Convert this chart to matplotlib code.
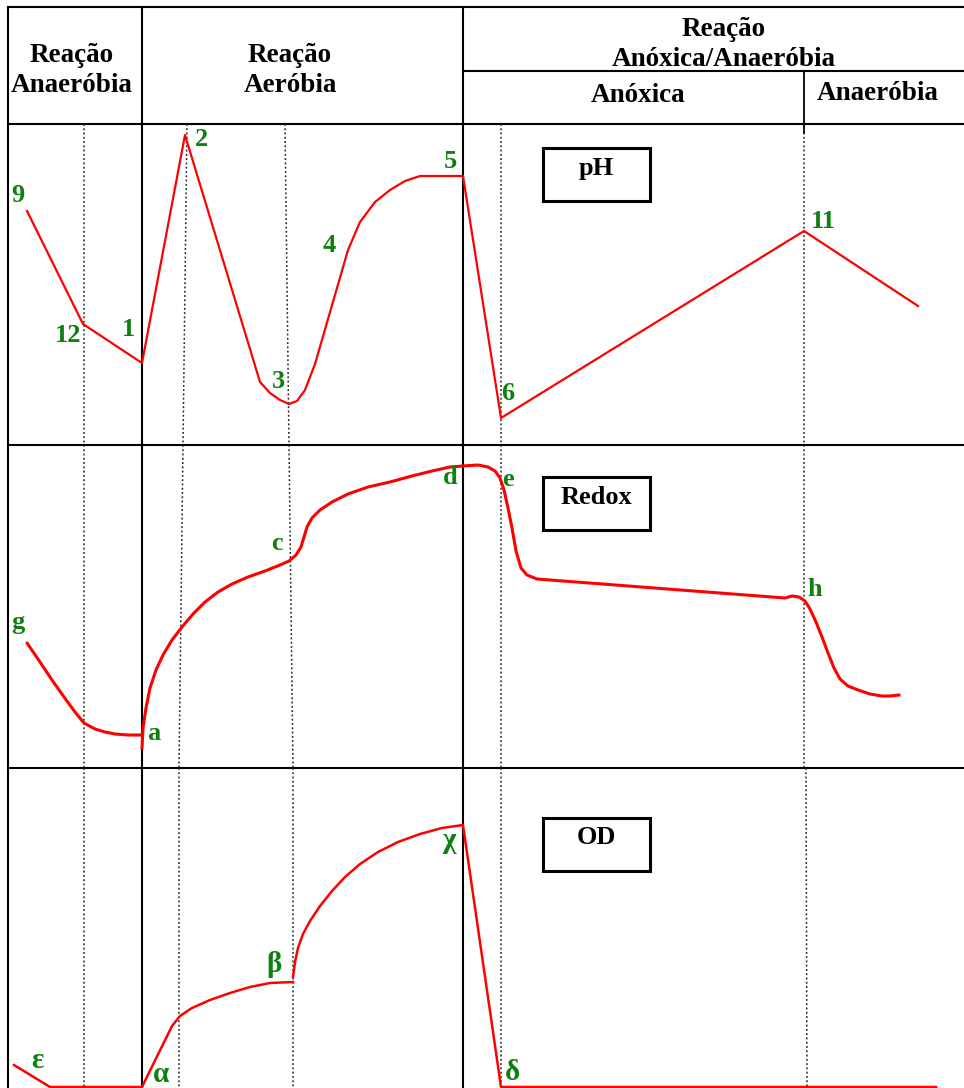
import matplotlib
matplotlib.use("Agg")
import matplotlib.pyplot as plt
from matplotlib.patches import Rectangle

# ---------------- data (drawing units = pixels) -------------
# pH curve
ph_x = [27, 83, 142, 185, 260, 270, 280, 289, 297, 305, 315, 348, 360, 375, 390, 405, 420, 435, 463,
        501, 804, 918]
ph_y = [211, 324, 363, 135, 382, 393, 400, 404, 401, 390, 364, 250, 222, 202, 190, 181, 176, 176, 176,
        418, 231, 306]
ph_labels = ["9", "12", "1", "2", "3", "4", "5", "6", "11"]
ph_lab_x = [18, 68, 128, 202, 278, 329, 450, 508, 823]
ph_lab_y = [196, 335, 330, 140, 382, 246, 162, 393, 221]

# Redox curve (two strokes)
rx1_x = [27, 40, 52, 64, 75, 84, 95, 105, 115, 128, 142]
rx1_y = [643, 662, 680, 697, 712, 723, 729, 732, 734, 735, 735]
rx2_x = [142, 143, 146, 150, 156, 163, 172, 182, 193, 205, 218, 232, 248, 265, 280, 289, 296, 301, 304,
         307, 312, 320, 332, 348, 368, 390, 412, 432, 450, 463, 478, 488, 495, 500, 504, 508, 512, 516,
         521, 527, 537, 785, 792, 799, 805, 810, 816, 822, 828, 834, 840, 848, 858, 870, 882, 890, 899]
rx2_y = [748, 728, 708, 688, 670, 655, 640, 627, 614, 602, 592, 584, 577, 571, 565, 561, 555, 547, 537,
         527, 518, 510, 502, 494, 487, 482, 476, 471, 467, 466, 465, 467, 471, 478, 490, 508, 528, 551,
         568, 575, 579, 598, 596, 597, 601, 609, 622, 637, 653, 668, 679, 686, 690, 694, 696, 696, 695]
rx_labels = ["g", "a", "c", "d", "e", "h"]
rx_lab_x = [18, 154, 277, 450, 508, 815]
rx_lab_y = [622, 733, 544, 478, 480, 589]

# OD curve (two strokes)
od1_x = [14, 50, 142, 172, 180, 192, 210, 230, 250, 270, 293]
od1_y = [1065, 1087, 1087, 1026, 1016, 1008, 1000, 993, 987, 983, 982]
od2_x = [293, 295, 298, 303, 310, 320, 332, 345, 360, 378, 398, 420, 442, 463, 501, 936]
od2_y = [977, 962, 948, 934, 921, 906, 891, 877, 864, 852, 842, 834, 828, 825, 1087, 1087]
od_labels = ["ε", "α", "β", "χ", "δ"]
od_lab_x = [37, 161, 274, 449, 513]
od_lab_y = [1061, 1075, 965, 840, 1072]

# boxed panel titles
box_titles = ["pH", "Redox", "OD"]
box_top = [148, 477, 818]

# header texts (one entry per line)
hdr_texts = ["Reação", "Anaeróbia", "Reação", "Aeróbia", "Reação", "Anóxica/Anaeróbia",
             "Anóxica", "Anaeróbia"]
hdr_x = [72, 72, 290, 290, 724, 724, 638, 878]
hdr_y = [56, 86, 56, 86, 30, 60, 96, 94]

# ---------------- figure -------------
W, H = 964, 1088
fig = plt.figure(figsize=(W / 100, H / 100), dpi=100)
ax = fig.add_axes([0, 0, 1, 1])
ax.set_xlim(0, W)
ax.set_ylim(H, 0)
ax.axis("off")

black = "black"
lw_tab = 1.5
FONT = "Liberation Serif"
GREEN = "#0f800f"
RED = "#ff0000"

# table lines
ax.plot([8, W], [7, 7], color=black, lw=lw_tab)
ax.plot([8, 8], [7, H], color=black, lw=lw_tab)
ax.plot([142, 142], [7, H], color=black, lw=lw_tab)
ax.plot([463, 463], [7, H], color=black, lw=lw_tab)
ax.plot([463, W], [71, 71], color=black, lw=lw_tab)
ax.plot([804, 804], [71, 133], color=black, lw=1.3)
for yy in [124, 445, 768]:
    ax.plot([8, W], [yy, yy], color=black, lw=lw_tab)

# dotted guide lines per panel
panels = [(124, 445), (445, 768), (768, H)]
dot_x = [
    [(84, 84), (187, 183), (285, 289), (501, 501), (804, 804)],
    [(84, 84), (183, 179), (289, 293), (501, 501), (804, 804)],
    [(84, 84), (179, 179), (293, 293), (501, 501), (806, 807)],
]
for (y0, y1), xs in zip(panels, dot_x):
    for xa, xb in xs:
        ax.plot([xa, xb], [y0, y1], color="#222222", lw=1.1, ls=(0, (1.2, 1.6)))

# curves
ax.plot(ph_x, ph_y, color=RED, lw=1.6, solid_joinstyle="round")
ax.plot(rx1_x, rx1_y, color=RED, lw=2.2, solid_capstyle="round")
ax.plot(rx2_x, rx2_y, color=RED, lw=2.2, solid_joinstyle="round")
ax.plot(od1_x, od1_y, color=RED, lw=1.8, solid_joinstyle="round")
ax.plot(od2_x, od2_y, color=RED, lw=1.8, solid_joinstyle="round")

# labels
lab_kw = dict(color=GREEN, fontsize=19, fontweight="bold", ha="center", va="center",
              family=[FONT, "DejaVu Sans"])
for t, x, y in zip(ph_labels, ph_lab_x, ph_lab_y):
    ax.text(x, y, t, **lab_kw)
for t, x, y in zip(rx_labels, rx_lab_x, rx_lab_y):
    ax.text(x, y, t, **lab_kw)
greek_kw = dict(lab_kw)
greek_kw["fontsize"] = 21
for t, x, y in zip(od_labels, od_lab_x, od_lab_y):
    ax.text(x, y, t, **greek_kw)

# boxes
for t, top in zip(box_titles, box_top):
    ax.add_patch(Rectangle((543, top), 107, 53, fill=False, ec=black, lw=2.2))
    ax.text(596, top + 20, t, fontsize=19, fontweight="bold", ha="center", va="center",
            family=FONT, color=black)

# header
for t, x, y in zip(hdr_texts, hdr_x, hdr_y):
    ax.text(x, y, t, fontsize=19.5, fontweight="bold", ha="center", va="center",
            family=FONT, color=black)

fig.savefig("out.png", dpi=100)
